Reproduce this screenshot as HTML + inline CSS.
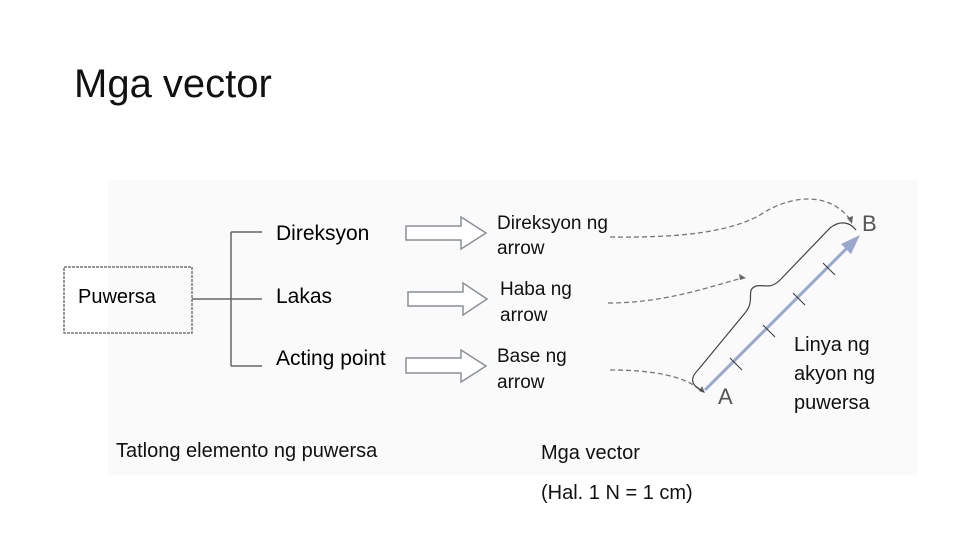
<!DOCTYPE html>
<html><head><meta charset="utf-8"><style>
body{margin:0;width:960px;height:540px;background:#fff;overflow:hidden;font-family:"Liberation Sans",sans-serif}
</style></head><body>
<svg width="960" height="540" viewBox="0 0 960 540" xmlns="http://www.w3.org/2000/svg" font-family="Liberation Sans, sans-serif">
<rect x="108" y="180" width="810" height="295" fill="#fafafa"/>
<text x="74" y="97" font-size="40" fill="#111">Mga vector</text>
<rect x="64" y="267" width="128" height="66" fill="none" stroke="#777" stroke-width="1.5" stroke-dasharray="3,1"/>
<text x="78" y="303" font-size="20">Puwersa</text>
<g stroke="#666" stroke-width="1.5" fill="none">
<path d="M192 299 H262 M231 232 V366 M231 232 H262 M231 366 H262"/>
</g>
<text x="276" y="240" font-size="21">Direksyon</text>
<text x="276" y="303" font-size="21">Lakas</text>
<text x="276" y="365" font-size="21">Acting point</text>
<g fill="#fff" stroke="#8a9096" stroke-width="1.5">
<path d="M406 226 H461 V217 L486 233 L461 249 V240 H406 Z"/>
<path d="M408 292 H463 V283 L487 299 L463 315 V306 H408 Z"/>
<path d="M406 358 H461 V350 L486 366 L461 382 V373 H406 Z"/>
</g>
<g font-size="19" fill="#111">
<text x="497" y="229">Direksyon ng</text><text x="497" y="254">arrow</text>
<text x="500" y="295">Haba ng</text><text x="500" y="321">arrow</text>
<text x="497" y="362">Base ng</text><text x="497" y="388">arrow</text>
</g>
<g stroke="#777" stroke-width="1.3" fill="none" stroke-dasharray="5,3">
<path d="M610 237 C680 238 730 232 760 215 C790 195 830 190 852 222"/>
<path d="M608 303 C660 303 700 290 742 278"/>
<path d="M610 370 C650 370 685 375 703 392"/>
</g>
<g fill="#666">
<path d="M852 224 l-5 -6 l6 -2 z"/>
<path d="M746 278 l-7 -4 l1 6 z"/>
<path d="M705 393 l-6 -2 l3 -5 z"/>
</g>
<path d="M704 392 C690 385 690 378 698 370 L745 313 C756 300 745 290 756 286 C764 284 770 290 780 280 L830 228 C840 220 850 222 856 230" fill="none" stroke="#444" stroke-width="1.2"/>
<line x1="705" y1="390" x2="852" y2="243" stroke="#9aa8d0" stroke-width="3"/>
<path d="M860 235 L841 244 L851 254 Z" fill="#9aa8d0"/>
<g stroke="#333" stroke-width="1">
<line x1="730" y1="358" x2="742" y2="370"/>
<line x1="763" y1="325" x2="775" y2="337"/>
<line x1="793" y1="293" x2="805" y2="305"/>
<line x1="823" y1="263" x2="835" y2="275"/>
</g>
<text x="718" y="404" font-size="22" fill="#555">A</text>
<text x="862" y="231" font-size="22" fill="#555">B</text>
<g font-size="20" fill="#111">
<text x="794" y="351">Linya ng</text><text x="794" y="380">akyon ng</text><text x="794" y="409">puwersa</text>
<text x="116" y="457">Tatlong elemento ng puwersa</text>
<text x="541" y="459">Mga vector</text>
<text x="541" y="499">(Hal. 1 N = 1 cm)</text>
</g>
</svg>
</body></html>
